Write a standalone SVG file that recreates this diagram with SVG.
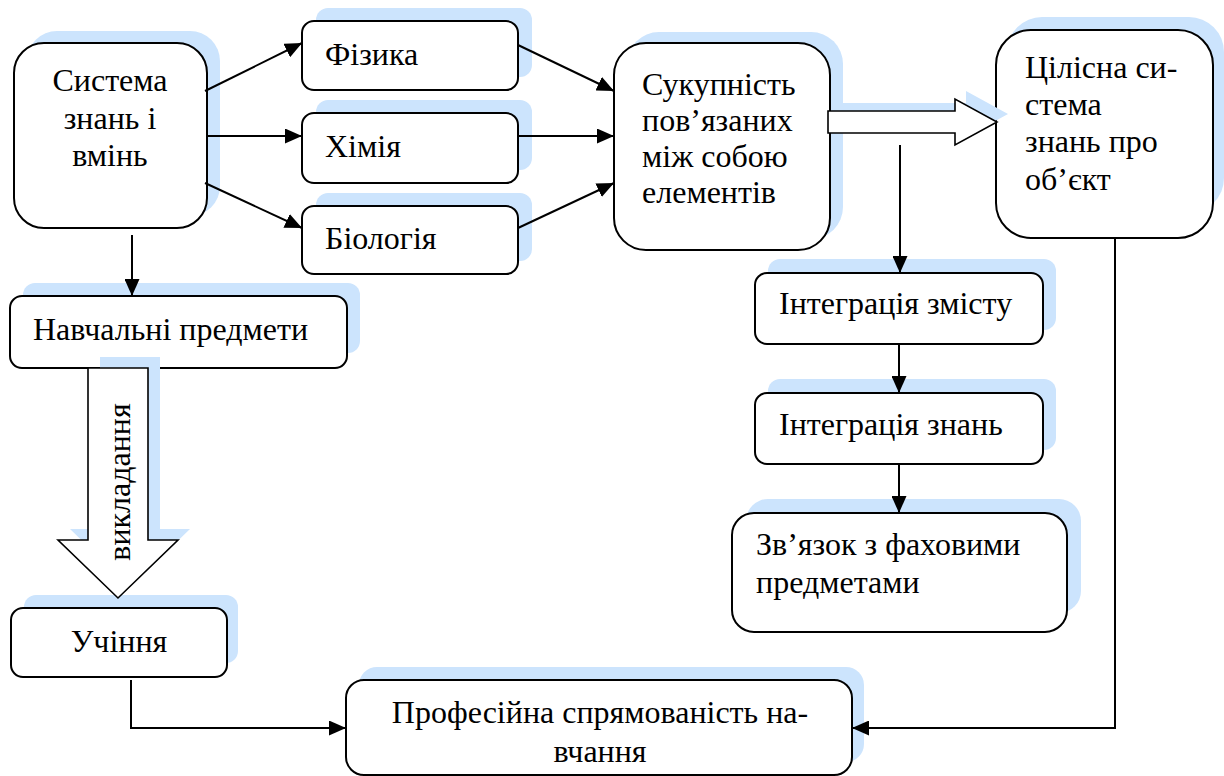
<svg xmlns="http://www.w3.org/2000/svg" width="1224" height="776" viewBox="0 0 1224 776">
<defs>
<style>
.sh{fill:#cce4fd;stroke:none}
.bx{fill:#fff;stroke:#000;stroke-width:2}
.t{font-size:32px;fill:#000}
.c{text-anchor:middle}
.ln{fill:none;stroke:#000;stroke-width:2}
.ba{fill:#fff;stroke:#000;stroke-width:1.6}
</style>
<marker id="ah" markerUnits="userSpaceOnUse" markerWidth="17" markerHeight="15" refX="17" refY="7.5" orient="auto">
<path d="M0,0 L17,7.5 L0,15 z" fill="#000"/>
</marker>
</defs>
<rect width="1224" height="776" fill="#fff"/>
<g font-family="'Liberation Serif', 'Times New Roman', serif">
<g id="n-systema">
<rect class="sh" x="27" y="31" width="193" height="185" rx="30"/>
<rect class="bx" x="14" y="43" width="193" height="185" rx="30"/>
<text class="t c" x="110" y="91">Система</text>
<text class="t c" x="110" y="129">знань і</text>
<text class="t c" x="110" y="166">вмінь</text>
</g>

<g id="n-fizyka">
<rect class="sh" x="316" y="8" width="216" height="69" rx="12"/>
<rect class="bx" x="302" y="21" width="216" height="69" rx="12"/>
<text class="t" x="325" y="65">Фізика</text>
</g>

<g id="n-khimiia">
<rect class="sh" x="316" y="100" width="216" height="70" rx="12"/>
<rect class="bx" x="302" y="113" width="216" height="70" rx="12"/>
<text class="t" x="325" y="157">Хімія</text>
</g>

<g id="n-biolohiia">
<rect class="sh" x="316" y="193" width="216" height="68" rx="12"/>
<rect class="bx" x="302" y="206" width="216" height="68" rx="12"/>
<text class="t" x="325" y="249">Біологія</text>
</g>

<g id="n-sukupnist">
<rect class="sh" x="627" y="32" width="216" height="207" rx="32"/>
<rect class="bx" x="614" y="43" width="216" height="207" rx="32"/>
<text class="t" x="642" y="95">Сукупність</text>
<text class="t" x="642" y="131">пов’язаних</text>
<text class="t" x="642" y="167">між собою</text>
<text class="t" x="642" y="203">елементів</text>
</g>

<g id="n-tsilisna">
<rect class="sh" x="1007" y="17" width="217" height="196" rx="35"/>
<rect class="bx" x="996" y="30" width="217" height="208" rx="35"/>
<text class="t" x="1025" y="78">Цілісна си-</text>
<text class="t" x="1025" y="115">стема</text>
<text class="t" x="1025" y="152">знань про</text>
<text class="t" x="1025" y="190">об’єкт</text>
</g>

<g id="n-navchalni">
<rect class="sh" x="23" y="283" width="337" height="70" rx="12"/>
<rect class="bx" x="10" y="296" width="337" height="72" rx="12"/>
<text class="t" x="33" y="340">Навчальні предмети</text>
</g>

<g id="n-integr-zmistu">
<rect class="sh" x="768" y="259" width="288" height="71" rx="12"/>
<rect class="bx" x="755" y="273" width="288" height="71" rx="12"/>
<text class="t" x="779" y="314">Інтеграція змісту</text>
</g>

<g id="n-integr-znan">
<rect class="sh" x="768" y="379" width="288" height="71" rx="12"/>
<rect class="bx" x="755" y="393" width="288" height="71" rx="12"/>
<text class="t" x="779" y="435">Інтеграція знань</text>
</g>

<g id="n-zviazok">
<rect class="sh" x="746" y="499" width="335" height="114" rx="22"/>
<rect class="bx" x="732" y="513" width="335" height="119" rx="22"/>
<text class="t" x="756" y="555">Зв’язок з фаховими</text>
<text class="t" x="756" y="593">предметами</text>
</g>

<g id="n-uchinnia">
<rect class="sh" x="24" y="595" width="214" height="68" rx="12"/>
<rect class="bx" x="11" y="608" width="216" height="69" rx="12"/>
<text class="t c" x="119" y="652">Учіння</text>
</g>

<g id="n-profesiina">
<rect class="sh" x="359" y="667" width="505" height="95" rx="18"/>
<rect class="bx" x="346" y="680" width="506" height="95" rx="18"/>
<text class="t c" x="600" y="723">Професійна спрямованість на-</text>
<text class="t c" x="600" y="762">вчання</text>
</g>

<g id="connectors">
<line class="ln" x1="205" y1="91" x2="302" y2="43" marker-end="url(#ah)"/>
<line class="ln" x1="207" y1="136" x2="302" y2="136" marker-end="url(#ah)"/>
<line class="ln" x1="205" y1="183" x2="302" y2="228" marker-end="url(#ah)"/>
<line class="ln" x1="518" y1="45" x2="614" y2="91" marker-end="url(#ah)"/>
<line class="ln" x1="518" y1="136" x2="614" y2="136" marker-end="url(#ah)"/>
<line class="ln" x1="518" y1="228" x2="614" y2="183" marker-end="url(#ah)"/>
<line class="ln" x1="132" y1="235" x2="132" y2="296" marker-end="url(#ah)"/>
<line class="ln" x1="900" y1="145" x2="900" y2="273" marker-end="url(#ah)"/>
<line class="ln" x1="899" y1="344" x2="899" y2="393" marker-end="url(#ah)"/>
<line class="ln" x1="899" y1="464" x2="899" y2="513" marker-end="url(#ah)"/>
<polyline class="ln" points="131,680 131,728 346,728" marker-end="url(#ah)"/>
<polyline class="ln" points="1115,238 1115,728 852,728" marker-end="url(#ah)"/>
<g id="block-right">
<polygon class="sh" transform="translate(11,-8)" points="828,111 955,111 955,99 997,122 955,145 955,133 828,133"/>
<polygon class="ba" points="828,111 955,111 955,99 997,122 955,145 955,133 828,133"/>
</g>
<g id="block-down">
<polygon class="sh" transform="translate(12,-11)" points="88,368 148,368 148,540 178,540 118,598 58,540 88,540"/>
<polygon class="ba" points="88,368 148,368 148,540 178,540 118,598 58,540 88,540"/>
<text class="t c" transform="translate(130,482) rotate(-90)">викладання</text>
</g>
</g>
</g>
</svg>
